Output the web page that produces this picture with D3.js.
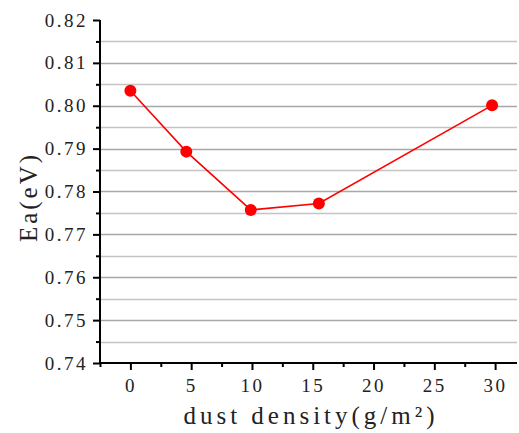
<!DOCTYPE html>
<html>
<head>
<meta charset="utf-8">
<script src="https://cdn.jsdelivr.net/npm/d3@7"></script>
<style>
  body { margin: 0; background: #fff; }
</style>
</head>
<body>
<svg id="chart" width="519" height="433"></svg>
<script>
// dust density (g/m2) vs activation energy Ea (eV)
const density = [0, 4.6, 9.9, 15.5, 29.75];
const ea = [0.8035, 0.7893, 0.7757, 0.7772, 0.8001];
const xTicks = [0, 5, 10, 15, 20, 25, 30];
const yTicks = [0.74, 0.75, 0.76, 0.77, 0.78, 0.79, 0.80, 0.81, 0.82];

const svg = d3.select('#chart');
const m = { left: 100, right: 2, top: 20, bottom: 70 };
const W = 519, H = 433;

const x = d3.scaleLinear().domain([-2.5, 31.8]).range([m.left, W - m.right]);
const y = d3.scaleLinear().domain([0.74, 0.82]).range([H - m.bottom, m.top]);

// grid lines every 0.005
const grid = d3.range(0.745, 0.8199, 0.005);
svg.append('g').selectAll('line')
  .data(grid).enter()
  .append('line')
  .attr('x1', m.left).attr('x2', W - m.right)
  .attr('y1', d => Math.round(y(d)) + 0.5).attr('y2', d => Math.round(y(d)) + 0.5)
  .style('stroke', (d, i) => i % 2 ? '#a8a8a8' : '#c4c4c4')
  .style('stroke-width', 1.3);

const tickFont = '"Liberation Serif", "DejaVu Serif", serif';

// y axis
const yAxis = svg.append('g').attr('transform', `translate(${m.left},0)`);
yAxis.append('g').call(d3.axisLeft(y).tickValues(d3.range(0.745, 0.82, 0.01)).tickFormat('').tickSize(4));
yAxis.append('g').call(d3.axisLeft(y).tickValues(yTicks).tickFormat(d3.format('.2f')).tickSize(7).tickPadding(5));

// x axis
const xAxis = svg.append('g').attr('transform', `translate(0,${H - m.bottom})`);
xAxis.append('g').call(d3.axisBottom(x).tickValues(d3.range(-2.5, 31, 5)).tickFormat('').tickSize(4));
xAxis.append('g').call(d3.axisBottom(x).tickValues(xTicks).tickSize(7).tickPadding(9));

svg.selectAll('.domain').remove();
yAxis.append('line').attr('y1', y(0.82)).attr('y2', y(0.74) + 1)
  .style('stroke', '#000').style('stroke-width', 2);
xAxis.append('line').attr('x1', m.left - 1).attr('x2', W - m.right)
  .style('stroke', '#000').style('stroke-width', 2);

svg.selectAll('.tick line').style('stroke', '#000').style('stroke-width', 2);
svg.selectAll('.tick text')
  .style('font-family', tickFont)
  .style('font-size', '19px')
  .style('letter-spacing', '2.5px')
  .style('fill', '#222');

// line + markers
const line = d3.line().x((d, i) => x(density[i])).y(d => y(d));
svg.append('path')
  .datum(ea)
  .attr('d', line)
  .style('fill', 'none')
  .style('stroke', '#ff0000')
  .style('stroke-width', 1.6);

svg.append('g').selectAll('circle')
  .data(ea).enter()
  .append('circle')
  .attr('cx', (d, i) => x(density[i]))
  .attr('cy', d => y(d))
  .attr('r', 6)
  .style('fill', '#ff0000');

// axis titles
svg.append('text')
  .attr('x', 311).attr('y', 424)
  .attr('text-anchor', 'middle')
  .style('font-family', tickFont)
  .style('font-size', '25px')
  .style('letter-spacing', '4px')
  .style('fill', '#222')
  .text('dust density(g/m²)');

svg.append('text')
  .attr('transform', 'translate(37,197) rotate(-90)')
  .attr('text-anchor', 'middle')
  .style('font-family', tickFont)
  .style('font-size', '25px')
  .style('letter-spacing', '3px')
  .style('fill', '#222')
  .text('Ea(eV)');
</script>
</body>
</html>
